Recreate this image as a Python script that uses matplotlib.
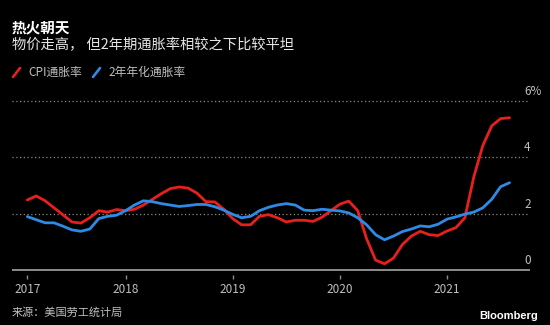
import numpy as np
import pandas as pd
import matplotlib
matplotlib.use("Agg")
import matplotlib.pyplot as plt
from matplotlib.lines import Line2D
from matplotlib import transforms

plt.rcParams['font.family'] = ['Noto Sans CJK SC', 'DejaVu Sans']

#--------------------------------------------------
# monthly series, Feb 2017 .. Aug 2021 (year-over-year, %)
months = pd.date_range("2017-02-01", periods=55, freq="MS")

cpi = [2.48, 2.62, 2.45, 2.20, 1.95, 1.70, 1.66, 1.85, 2.10, 2.05, 2.14,
       2.10, 2.15, 2.30, 2.50, 2.70, 2.88, 2.94, 2.90, 2.72, 2.42, 2.41, 2.15,
       1.82, 1.60, 1.60, 1.90, 1.96, 1.85, 1.70, 1.76, 1.76, 1.72, 1.87, 2.10,
       2.33, 2.44, 2.10, 1.10, 0.35, 0.22, 0.42, 0.90, 1.20, 1.37, 1.25, 1.22,
       1.38, 1.50, 1.85, 3.30, 4.40, 5.10, 5.36, 5.39]

two_year = [1.89, 1.78, 1.67, 1.67, 1.55, 1.42, 1.37, 1.45, 1.82, 1.90, 1.94,
            2.10, 2.30, 2.45, 2.42, 2.35, 2.30, 2.25, 2.28, 2.32, 2.32, 2.24, 2.12,
            1.97, 1.85, 1.90, 2.10, 2.22, 2.30, 2.35, 2.30, 2.12, 2.10, 2.15, 2.12,
            2.09, 2.02, 1.85, 1.60, 1.25, 1.07, 1.20, 1.36, 1.45, 1.56, 1.53, 1.62,
            1.80, 1.88, 1.98, 2.05, 2.20, 2.50, 2.95, 3.09]

yticks = [0, 2, 4, 6]

title = "热火朝天"
subtitle = "物价走高， 但2年期通胀率相较之下比较平坦"
series_names = ["CPI通胀率", "2年年化通胀率"]
source = "来源：美国劳工统计局"

#--------------------------------------------------
W, H = 550, 325
red = "#e8201c"
blue = "#2d8be6"
bg = "#000000"
grey = "#bfbfbf"

fig = plt.figure(figsize=(W/100, H/100), dpi=100, facecolor=bg)

def px(x, y):
    return x/W, 1 - y/H

# axes placement in pixels
axl, axr, axt, axb = 12, 530, 95, 275
ax = fig.add_axes([axl/W, 1 - axb/H, (axr-axl)/W, (axb-axt)/H])
ax.set_facecolor(bg)

xs = np.arange(len(months))
ax.plot(xs, cpi, color=red, lw=2.0, solid_joinstyle='round', solid_capstyle='round', zorder=3)
ax.plot(xs, two_year, color=blue, lw=2.0, solid_joinstyle='round', solid_capstyle='round', zorder=4)

ax.set_xlim(-1.713, 56.29)
ax.set_ylim(-0.177, 6.195)

for s in ax.spines.values():
    s.set_visible(False)

# dotted gridlines + solid baseline
for v in yticks[1:]:
    ax.axhline(v, color="#8a8a8a", lw=0.9, ls=(0, (1, 2)), zorder=1)
ax.axhline(0, color="#8c8c8c", lw=1.4, zorder=2)

# y labels sit above their gridline on the right
ylab_tr = transforms.offset_copy(
    transforms.blended_transform_factory(transforms.IdentityTransform(), ax.transData),
    fig=fig, x=0, y=3, units='dots')
for v in yticks:
    lab = "%d%%" % v if v == yticks[-1] else "%d" % v
    ax.text(524, v, lab, transform=ylab_tr, ha='left', va='bottom', color=grey, fontsize=8.5)
ax.set_yticks([])

# year ticks: first point plus each January
tick_pos = [i for i, m in enumerate(months) if i == 0 or m.month == 1]
tick_lab = [str(months[i].year) for i in tick_pos]
ax.set_xticks(tick_pos)
ax.set_xticklabels(tick_lab)
ax.tick_params(axis='x', length=3, width=1, color="#8c8c8c", labelcolor=grey,
               labelsize=8.5, pad=2.5)

#--------------------------------------------------
# header
fig.text(*px(12, 27.5), title, color="white", fontsize=10.5, fontweight='bold', va='center', ha='left')
fig.text(*px(12, 45), subtitle, color="#e6e6e6", fontsize=10.3, va='center', ha='left')

# legend with slanted strokes
for (x0, col, name) in [(13, red, series_names[0]), (93, blue, series_names[1])]:
    fig.add_artist(Line2D([x0/W, (x0+7)/W], [1-77/H, 1-68/H], color=col, lw=1.9,
                          transform=fig.transFigure, solid_capstyle='round'))
    fig.text(*px(x0 + 15, 72.5), name, color=grey, fontsize=8.5, va='center', ha='left')

# footer
fig.text(*px(12, 312.5), source, color=grey, fontsize=8, va='center', ha='left')
fig.text(*px(538, 316), "Bloomberg", color="white", fontsize=8, fontweight='bold',
         family='Liberation Sans', va='center', ha='right')

fig.savefig("out.png", dpi=100, facecolor=bg)
